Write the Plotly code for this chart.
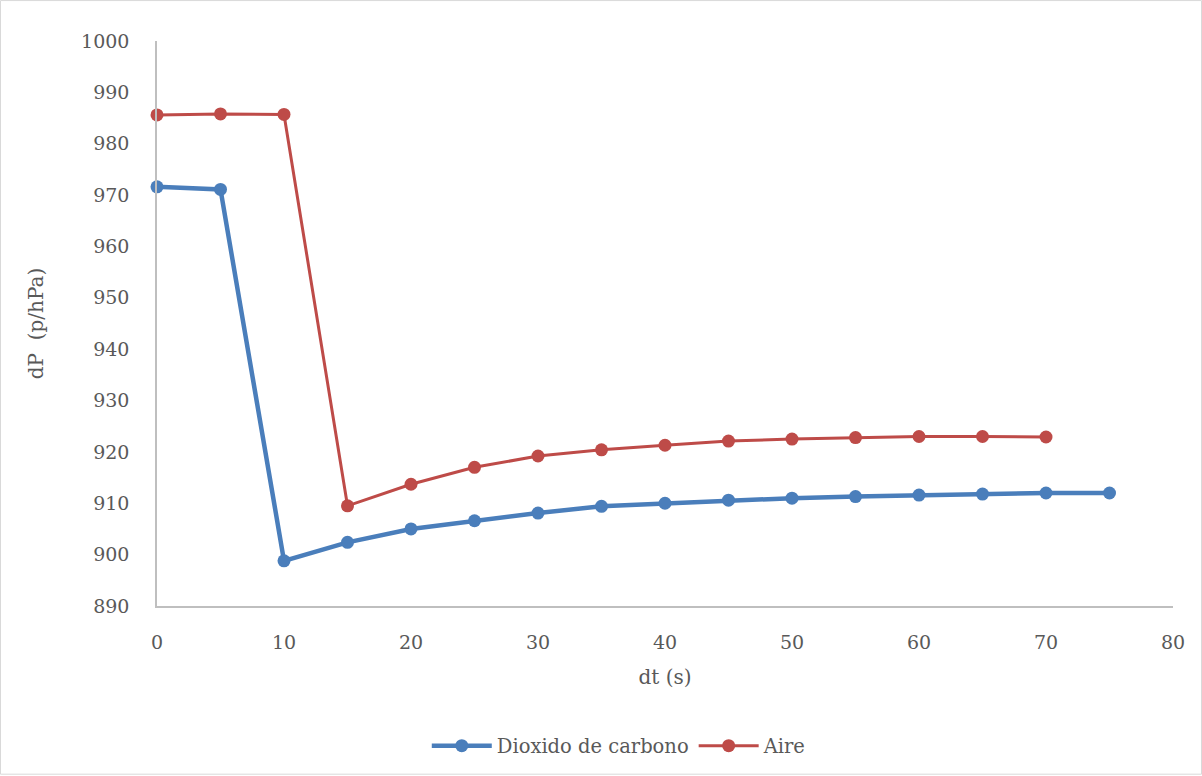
import plotly.graph_objects as go

t_co2 = [0, 5, 10, 15, 20, 25, 30, 35, 40, 45, 50, 55, 60, 65, 70, 75]
dp_co2 = [971.6, 971.1, 898.8, 902.4, 905.0, 906.6, 908.1, 909.4, 910.0, 910.6, 911.0, 911.3, 911.6, 911.8, 912.0, 912.0]
t_air = [0, 5, 10, 15, 20, 25, 30, 35, 40, 45, 50, 55, 60, 65, 70]
dp_air = [985.6, 985.8, 985.7, 909.5, 913.7, 917.0, 919.2, 920.4, 921.3, 922.1, 922.5, 922.8, 923.0, 923.0, 922.9]

W, H = 1202, 776
ML, MR, MT, MB = 157, 29, 41, 169
FONT = "DejaVu Serif"
GREY = "#595959"

fig = go.Figure()
fig.add_trace(go.Scatter(x=t_co2, y=dp_co2, mode="lines+markers", name="Dioxido de carbono",
                         line=dict(color="#4A7EBB", width=4.5),
                         marker=dict(color="#4A7EBB", size=13)))
fig.add_trace(go.Scatter(x=t_air, y=dp_air, mode="lines+markers", name="Aire",
                         line=dict(color="#BE4B48", width=3),
                         marker=dict(color="#BE4B48", size=13)))

pw = W - ML - MR
ph = H - MT - MB
fig.add_shape(type="rect", xref="paper", yref="paper",
              x0=(-ML + 0.5) / pw, x1=1 + (MR - 0.5) / pw,
              y0=(-MB + 0.5) / ph, y1=1 + (MT - 0.5) / ph,
              line=dict(color="#D9D9D9", width=1), layer="below")

fig.update_layout(
    width=W, height=H,
    margin=dict(l=ML, r=MR, t=MT, b=MB),
    paper_bgcolor="white", plot_bgcolor="white",
    font=dict(family=FONT, size=19, color=GREY),
    showlegend=True,
    legend=dict(orientation="h", x=0.455, xanchor="center", y=-0.2456, yanchor="middle",
                font=dict(size=19.5, color=GREY), itemwidth=60),
    xaxis=dict(range=[0, 80], dtick=10, showgrid=False, zeroline=False,
               showline=True, linecolor="#BFBFBF", linewidth=1.5,
               ticks="", ticklabelstandoff=18,
               title=dict(text="dt (s)", font=dict(size=20, color=GREY), standoff=18)),
    yaxis=dict(range=[890, 1000], dtick=10, showgrid=False, zeroline=False,
               showline=True, linecolor="#BFBFBF", linewidth=1.5,
               ticks="", ticklabelstandoff=22,
               title=dict(text="dP  (p/hPa)", font=dict(size=20, color=GREY), standoff=32)),
)
fig.update_traces(cliponaxis=False)

fig.write_html("out.html", config={"displayModeBar": False},
               post_script="document.body.style.margin='0px';")
